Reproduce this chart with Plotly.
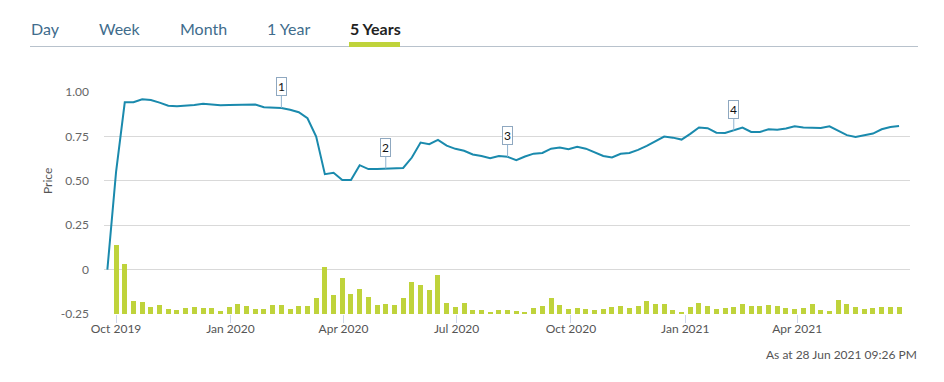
import pandas as pd
import plotly.graph_objects as go

# ---------------- data ----------------
dates = pd.date_range("2019-09-24", periods=92, freq="7D")

price = [0.0, 0.55, 0.942, 0.942, 0.959, 0.955, 0.94, 0.923, 0.92, 0.923,
         0.927, 0.934, 0.929, 0.925, 0.927, 0.929, 0.929, 0.929, 0.914, 0.91,
         0.91, 0.90, 0.886, 0.852, 0.749, 0.537, 0.545, 0.504, 0.505, 0.588,
         0.566, 0.567, 0.569, 0.57, 0.572, 0.631, 0.715, 0.706, 0.73, 0.698,
         0.68, 0.669, 0.648, 0.64, 0.627, 0.639, 0.635, 0.616, 0.637, 0.653,
         0.657, 0.681, 0.687, 0.678, 0.691, 0.681, 0.659, 0.64, 0.631, 0.652,
         0.657, 0.674, 0.697, 0.723, 0.749, 0.743, 0.732, 0.764, 0.80, 0.796,
         0.771, 0.769, 0.783, 0.80, 0.775, 0.775, 0.79, 0.787, 0.794, 0.807,
         0.80, 0.80, 0.798, 0.807, 0.781, 0.757, 0.747, 0.755, 0.766, 0.79,
         0.803, 0.809]

volume = [6.9, 5.0, 1.3, 1.2, 0.7, 0.9, 0.5, 0.4, 0.6, 0.7, 0.6, 0.6, 0.3, 0.7, 1.0,
          0.8, 0.5, 0.5, 0.9, 0.9, 0.5, 0.8, 0.8, 1.6, 4.7, 1.9, 3.6, 2.0, 2.5, 1.7,
          0.9, 1.0, 0.9, 1.6, 3.2, 2.9, 2.4, 3.9, 1.1, 0.7, 1.1, 0.4, 0.4, 0.2, 0.4,
          0.4, 0.3, 0.2, 0.6, 0.8, 1.6, 0.9, 0.5, 0.6, 0.5, 0.4, 0.5, 0.7, 0.8, 0.6,
          0.8, 1.3, 1.0, 1.0, 0.4, 0.2, 0.7, 1.1, 0.8, 0.5, 0.6, 0.7, 1.0, 0.8, 0.8,
          0.9, 0.8, 0.6, 0.5, 0.6, 1.0, 0.4, 0.3, 1.4, 1.0, 0.7, 0.5, 0.6, 0.7, 0.7,
          0.7]
volume_dates = dates[1:]

event_idx = [20, 32, 46, 72]
event_labels = ["1", "2", "3", "4"]

tabs = ["Day", "Week", "Month", "1 Year", "5 Years"]
ytick_vals = [-0.25, 0, 0.25, 0.5, 0.75, 1.0]
ytick_text = ["-0.25", "0", "0.25", "0.50", "0.75", "1.00"]
footer = "As at 28 Jun 2021 09:26 PM"

# ---------------- layout constants ----------------
W, H = 944, 382
PL, PR, PT, PB = 104, 910, 92, 314
LINE_C = "#1a8aad"
BAR_C = "#bfd33b"
FONT = "Lato, 'Open Sans', sans-serif"


def px_x(px):
    return (px - PL) / (PR - PL)


def px_y(py):
    return (PB - py) / (PB - PT)


fig = go.Figure()

fig.add_trace(go.Bar(
    x=volume_dates, y=volume, yaxis="y2",
    marker=dict(color=BAR_C, line=dict(width=0)),
    width=4 * 86400000, hoverinfo="skip", showlegend=False,
))

fig.add_trace(go.Scatter(
    x=dates, y=price, mode="lines",
    line=dict(color=LINE_C, width=2),
    showlegend=False, hoverinfo="x+y",
))

annotations = []
for i, lab in zip(event_idx, event_labels):
    annotations.append(dict(
        x=dates[i], y=price[i], xref="x", yref="y",
        text=lab, showarrow=True, arrowhead=0, arrowwidth=1,
        arrowcolor="#8fb3d0", ax=0, ay=-21,
        font=dict(family=FONT, size=12, color="#111"),
        bgcolor="white", bordercolor="#8fa8c0", borderwidth=1, borderpad=1,
    ))

# Price title
annotations.append(dict(
    x=px_x(47), y=px_y(181), xref="paper", yref="paper",
    text="Price", showarrow=False, textangle=-90,
    font=dict(family=FONT, size=12, color="#555"),
    xanchor="center", yanchor="middle",
))

# tabs
tab_x = [29, 97, 178, 265, 348]
for t, x0 in zip(tabs, tab_x):
    bold = t == "5 Years"
    annotations.append(dict(
        x=px_x(x0), y=px_y(28), xref="paper", yref="paper",
        text=f"<b>{t}</b>" if bold else t, showarrow=False,
        xanchor="left", yanchor="middle",
        font=dict(family=FONT, size=16, color="#222" if bold else "#406c8c"),
    ))

# footer
annotations.append(dict(
    x=px_x(919), y=px_y(354), xref="paper", yref="paper",
    text=footer, showarrow=False, xanchor="right", yanchor="middle",
    font=dict(family=FONT, size=12, color="#555"),
))

shapes = [
    dict(type="line", xref="paper", yref="paper",
         x0=px_x(30), x1=px_x(918), y0=px_y(46.5), y1=px_y(46.5),
         line=dict(color="#b8c2cc", width=1)),
    dict(type="rect", xref="paper", yref="paper",
         x0=px_x(349), x1=px_x(400), y0=px_y(47), y1=px_y(42),
         fillcolor=BAR_C, line=dict(width=0)),
]

fig.update_layout(
    width=W, height=H,
    margin=dict(l=PL, r=W - PR, t=PT, b=H - PB),
    paper_bgcolor="white", plot_bgcolor="white",
    font=dict(family=FONT, size=12, color="#555"),
    bargap=0,
    xaxis=dict(
        range=["2019-09-21 07:00", "2021-06-30 19:00"],
        tick0="2019-10-01", dtick="M3", tickformat="%b %Y",
        ticks="outside", ticklen=8, tickcolor="#ccd6eb", tickwidth=1,
        ticklabelstandoff=-4,
        showgrid=False, zeroline=False, showline=False,
        tickfont=dict(family=FONT, size=12, color="#555"),
    ),
    yaxis=dict(
        range=[-0.25, 1.0], tickvals=ytick_vals, ticktext=ytick_text,
        showgrid=True, gridcolor="#d9d9d9", gridwidth=1,
        zeroline=False, showline=False, ticks="",
        ticklabelstandoff=14,
        tickfont=dict(family=FONT, size=12, color="#666"),
    ),
    yaxis2=dict(
        range=[0, 22.2], overlaying="y", side="right",
        showgrid=False, showticklabels=False, zeroline=False, showline=False,
    ),
    annotations=annotations,
    shapes=shapes,
    hovermode="x",
)

fig.write_html(
    "out.html",
    config={"displayModeBar": False},
    post_script="document.body.style.margin='0px';document.body.style.overflow='hidden';",
)
